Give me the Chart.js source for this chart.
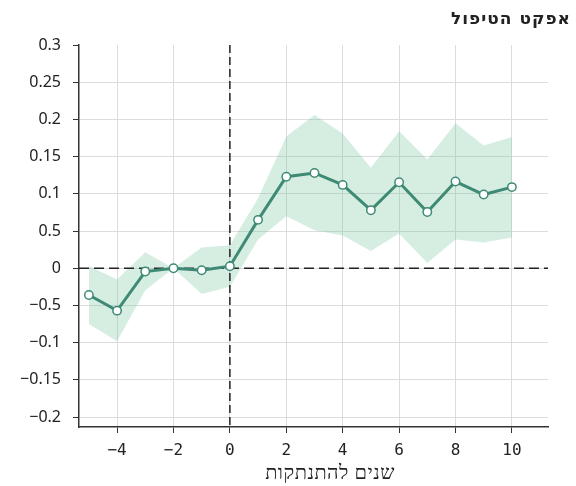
<!DOCTYPE html>
<html>
<head>
<meta charset="utf-8">
<script src="https://cdn.jsdelivr.net/npm/chart.js@4/dist/chart.umd.min.js"></script>
<style>
  html, body { margin: 0; padding: 0; background: #fff; }
  #wrap { width: 576px; height: 486px; }
</style>
</head>
<body>
<div id="wrap"><canvas id="effectChart" width="576" height="486"></canvas></div>
<script>
// שנים להתנתקות
const years = [-5, -4, -3, -2, -1, 0, 1, 2, 3, 4, 5, 6, 7, 8, 9, 10];
const effect = [-0.036, -0.057, -0.0045, 0, -0.0027, 0.0027, 0.065, 0.123, 0.128, 0.112, 0.078, 0.1155, 0.0755, 0.1165, 0.099, 0.109];
const upperCI = [0.003, -0.015, 0.0215, 0, 0.028, 0.031, 0.094, 0.177, 0.206, 0.181, 0.135, 0.184, 0.146, 0.195, 0.165, 0.1765];
const lowerCI = [-0.075, -0.098, -0.0296, 0, -0.0345, -0.025, 0.0385, 0.07, 0.051, 0.044, 0.0233, 0.0466, 0.007, 0.0386, 0.0345, 0.0412];

const xTicks = [-4, -2, 0, 2, 4, 6, 8, 10];
const xTickLabels = ['−4', '−2', '0', '2', '4', '6', '8', '10'];
const yTicks = [0.3, 0.25, 0.2, 0.15, 0.1, 0.05, 0, -0.05, -0.1, -0.15, -0.2];
const yTickLabels = ['0.3', '0.25', '0.2', '0.15', '0.1', '0.5', '0', '−0.5', '−0.1', '−0.15', '−0.2'];

const chartTitle = 'אפקט הטיפול';
const xTitle = 'שנים להתנתקות';

const toPoints = (vals) => years.map((x, i) => ({ x: x, y: vals[i] }));

// dashed reference lines at 0 on both axes + the texts
const refLines = {
    id: 'refLines',
    beforeDatasetDraw(chart, args) {
        if (args.index !== 2) return;
        const { ctx, chartArea, scales } = chart;
        const x0 = scales.x.getPixelForValue(0);
        const y0 = scales.y.getPixelForValue(0);
        ctx.save();
        ctx.strokeStyle = '#222';
        ctx.lineWidth = 1.5;
        ctx.setLineDash([10, 5]);
        ctx.beginPath();
        ctx.moveTo(chartArea.left, y0);
        ctx.lineTo(chartArea.right, y0);
        ctx.stroke();
        ctx.setLineDash([8, 4]);
        ctx.beginPath();
        ctx.moveTo(x0, chartArea.top);
        ctx.lineTo(x0, chartArea.bottom);
        ctx.stroke();
        ctx.restore();
    },
    afterDraw(chart) {
        const { ctx } = chart;
        ctx.save();
        ctx.fillStyle = '#222';
        ctx.textBaseline = 'middle';
        ctx.textAlign = 'right';
        ctx.font = 'bold 17px "DejaVu Sans"';
        ctx.letterSpacing = '1px';
        ctx.fillText(chartTitle, 571, 20);
        ctx.textAlign = 'center';
        ctx.font = '20px "Liberation Serif"';
        ctx.letterSpacing = '0.5px';
        ctx.fillText(xTitle, 330, 474);
        ctx.restore();
    }
};

const ctx = document.getElementById('effectChart').getContext('2d');

new Chart(ctx, {
    type: 'line',
    data: {
        datasets: [{
            label: 'upper',
            data: toPoints(upperCI),
            borderWidth: 0,
            pointRadius: 0,
            fill: '+1',
            backgroundColor: 'rgba(120, 200, 160, 0.3)',
            order: 3
        }, {
            label: 'lower',
            data: toPoints(lowerCI),
            borderWidth: 0,
            pointRadius: 0,
            fill: false,
            order: 2
        }, {
            label: 'effect',
            data: toPoints(effect),
            borderColor: '#3f8a75',
            borderWidth: 3,
            pointRadius: 4.2,
            pointBackgroundColor: '#fff',
            pointBorderColor: '#3f8a75',
            pointBorderWidth: 1.5,
            fill: false,
            order: 0
        }]
    },
    options: {
        responsive: false,
        animation: false,
        layout: { padding: { top: 45, right: 28, left: 0, bottom: 0 } },
        plugins: {
            legend: { display: false },
            tooltip: { enabled: false }
        },
        scales: {
            x: {
                type: 'linear',
                min: -5.35,
                max: 11.28,
                afterBuildTicks: (scale) => { scale.ticks = xTicks.map(v => ({ value: v })); },
                afterFit: (scale) => { scale.height = 59; },
                ticks: {
                    callback: (value, index) => xTickLabels[index],
                    color: '#222',
                    padding: 8,
                    maxRotation: 0,
                    font: { family: '"DejaVu Sans Mono"', size: 16 }
                },
                grid: { color: '#dcdcdc', lineWidth: 1, tickLength: 6, tickColor: '#333' },
                border: { display: true, color: '#333', width: 1.5 }
            },
            y: {
                min: -0.2134,
                max: 0.3,
                afterBuildTicks: (scale) => { scale.ticks = yTicks.map(v => ({ value: v })); },
                afterFit: (scale) => { scale.width = 79; },
                ticks: {
                    callback: (value, index) => yTickLabels[index],
                    color: '#222',
                    padding: 12,
                    font: { family: '"Noto Sans"', size: 16 }
                },
                grid: {
                    color: (c) => (c.tick && c.tick.value === 0.3) ? 'rgba(0,0,0,0)' : '#dcdcdc',
                    lineWidth: 1,
                    tickLength: 6,
                    tickColor: '#333'
                },
                border: { display: true, color: '#333', width: 1.5 }
            }
        }
    },
    plugins: [refLines]
});
</script>
</body>
</html>
